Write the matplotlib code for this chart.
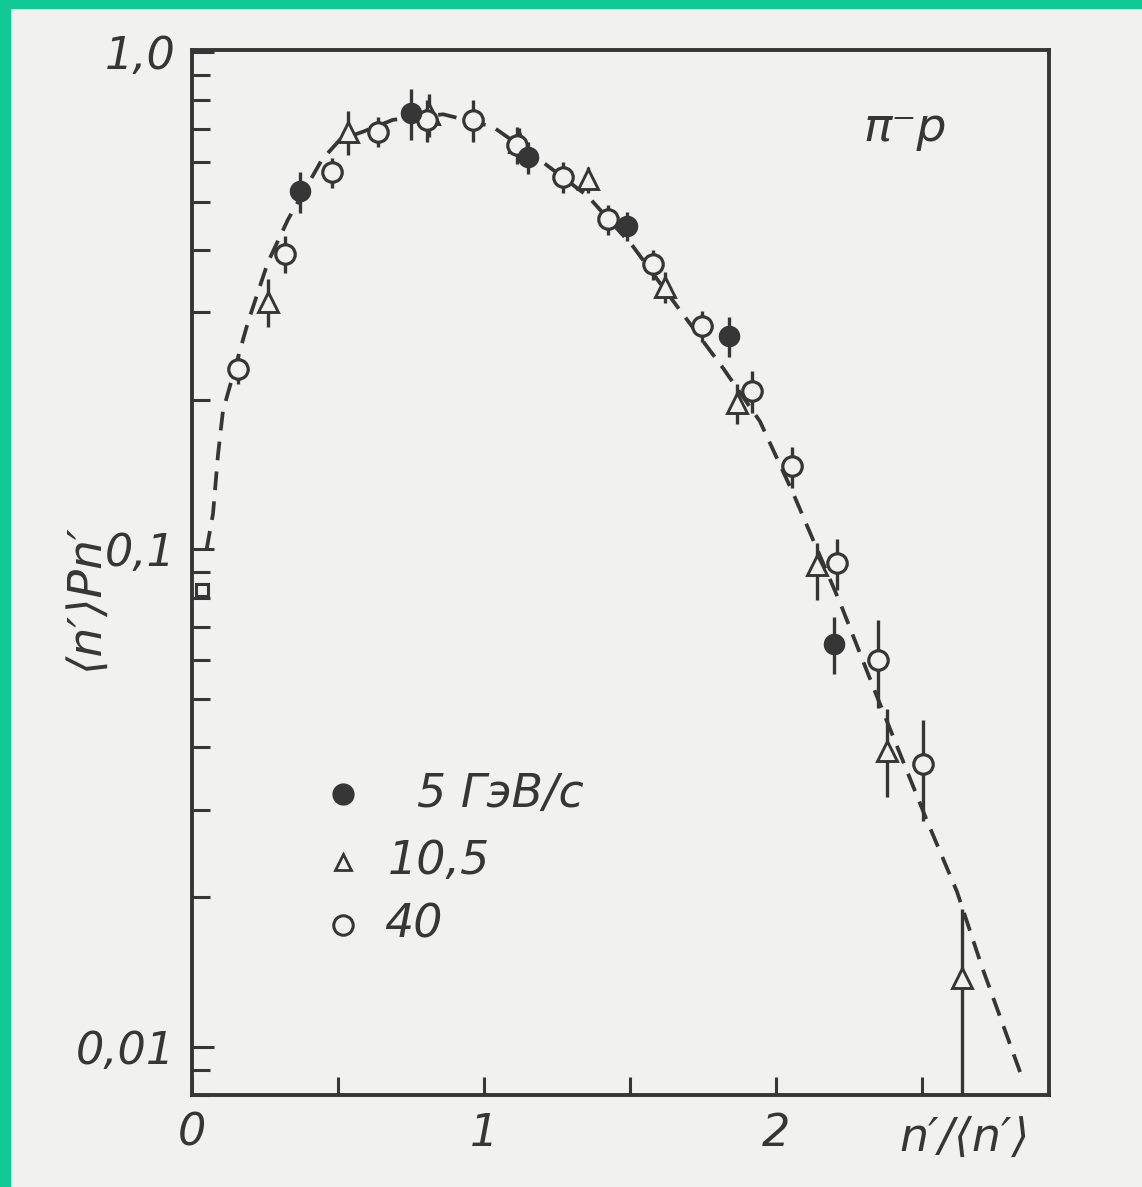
import matplotlib
matplotlib.use("Agg")
import matplotlib.pyplot as plt
from matplotlib import font_manager as fm
from matplotlib.patches import Rectangle

# ---------------- data ----------------
x_5 = [0.37, 0.75, 1.15, 1.49, 1.84, 2.20]
y_5 = [0.525, 0.755, 0.614, 0.447, 0.269, 0.0646]
e_5 = [0.05, 0.09, 0.045, 0.03, 0.025, 0.0085]

x_105 = [0.26, 0.534, 0.81, 1.12, 1.356, 1.62, 1.866, 2.14, 2.38, 2.637]
y_105 = [0.315, 0.692, 0.75, 0.66, 0.555, 0.337, 0.197, 0.093, 0.0393, 0.01374]
e_105_lo = [0.035, 0.07, 0.075, 0.045, 0.033, 0.024, 0.018, 0.014, 0.0075, 0.0075]
e_105_hi = [0.035, 0.07, 0.075, 0.045, 0.033, 0.024, 0.018, 0.010, 0.0085, 0.0052]

x_40 = [0.158, 0.318, 0.479, 0.637, 0.805, 0.962, 1.113, 1.27, 1.425, 1.579,
        1.747, 1.918, 2.055, 2.21, 2.35, 2.503]
y_40 = [0.231, 0.393, 0.573, 0.692, 0.731, 0.731, 0.652, 0.562, 0.461, 0.375,
        0.281, 0.208, 0.147, 0.094, 0.060, 0.037]
e_40 = [0.016, 0.033, 0.04, 0.048, 0.07, 0.07, 0.055, 0.04, 0.032, 0.026,
        0.02, 0.02, 0.014, 0.011, 0.012, 0.0085]

x_sq = [0.035]
y_sq = [0.083]

curve_x = [0.05, 0.072, 0.089, 0.106, 0.192, 0.26, 0.329, 0.445, 0.507, 0.586,
           0.688, 0.86, 1.03, 1.19, 1.356, 1.51, 1.66, 1.82, 1.945, 2.058,
           2.22, 2.346, 2.517, 2.62, 2.705, 2.842]
curve_y = [0.100, 0.118, 0.155, 0.190, 0.287, 0.378, 0.461, 0.608, 0.667, 0.692,
           0.731, 0.750, 0.708, 0.608, 0.513, 0.407, 0.309, 0.231, 0.181, 0.130,
           0.078, 0.0506, 0.0285, 0.0205, 0.0145, 0.0087]

x_ticks = [0, 0.5, 1, 1.5, 2, 2.5]
x_ticklabels = ["0", "", "1", "", "2", ""]
y_ticks = [0.01, 0.1, 1.0]
y_ticklabels = ["0,01", "0,1", "1,0"]

legend_labels = ["5 ГэВ/c", "10,5", "40"]

# ---------------- style ----------------
names = {f.name for f in fm.fontManager.ttflist}
FONT = "Liberation Sans Narrow" if "Liberation Sans Narrow" in names else "DejaVu Sans"
FAM = [FONT, "DejaVu Sans"]
plt.rcParams["font.family"] = FAM

INK = "#363636"
BG = "#f1f1ef"
GREEN = "#10c995"
FS = 32

fig = plt.figure(figsize=(11.42, 11.87), dpi=100, facecolor=BG)
ax = fig.add_axes([192 / 1142, 1 - 1095 / 1187, (1049 - 192) / 1142, (1095 - 50) / 1187])
ax.set_facecolor(BG)
ax.set_yscale("log")
ax.set_xlim(0, 2.935)
ax.set_ylim(0.008, 1.01)

# dashed curve
ax.plot(curve_x, curve_y, ls=(0, (5, 3)), color=INK, lw=2.7, zorder=2,
        dash_capstyle="butt")

# error bars + markers
ax.errorbar(x_5, y_5, yerr=e_5, fmt="o", ms=14.5, mfc=INK, mec=INK,
            ecolor=INK, elinewidth=2.4, capsize=0, zorder=4)
ax.errorbar(x_105, y_105, yerr=[e_105_lo, e_105_hi], fmt="^", ms=14, mfc=BG,
            mec=INK, mew=2.1, ecolor=INK, elinewidth=2.4, capsize=0, zorder=3)
ax.errorbar(x_40, y_40, yerr=e_40, fmt="o", ms=14, mfc=BG, mec=INK, mew=2.3,
            ecolor=INK, elinewidth=2.4, capsize=0, zorder=3)
ax.plot(x_sq, y_sq, "s", ms=9, mfc=BG, mec=INK, mew=2.2, zorder=3, clip_on=False)

# spines and ticks
for s in ax.spines.values():
    s.set_linewidth(2.8)
    s.set_color(INK)
ax.set_xticks(x_ticks)
ax.set_xticklabels(x_ticklabels)
ax.set_yticks(y_ticks)
ax.set_yticklabels(y_ticklabels)
ax.tick_params(axis="both", which="major", direction="in", length=16, width=2.2,
               color=INK, labelcolor=INK, labelsize=FS, top=False, right=False)
ax.tick_params(axis="x", which="major", length=13, pad=12)
ax.tick_params(axis="y", which="major", pad=12)
ax.tick_params(axis="y", which="minor", direction="in", length=13, width=2.2,
               color=INK, right=False)
ax.tick_params(axis="x", which="minor", bottom=False)
for lab in ax.get_xticklabels() + ax.get_yticklabels():
    lab.set_fontstyle("italic")
    lab.set_family(FAM)

# legend (drawn by hand, like the original)
leg_y = [0.288, 0.223, 0.163]
ax.plot([0.176], [leg_y[0]], "o", ms=15, mfc=INK, mec=INK, transform=ax.transAxes, zorder=5)
ax.plot([0.176], [leg_y[1]], "^", ms=12, mfc=BG, mec=INK, mew=2.0, transform=ax.transAxes, zorder=5)
ax.plot([0.176], [leg_y[2]], "o", ms=14, mfc=BG, mec=INK, mew=2.2, transform=ax.transAxes, zorder=5)
leg_x = [0.262, 0.228, 0.224]
for lx, ly, lab in zip(leg_x, leg_y, legend_labels):
    ax.text(lx, ly, lab, transform=ax.transAxes, fontsize=FS + 1, style="italic",
            color=INK, ha="left", va="center", family=FAM)

# annotations
ax.text(0.832, 0.925, "π⁻p", transform=ax.transAxes, fontsize=FS + 2, style="italic",
        color=INK, ha="center", va="center", family=FAM)
fig.text(965 / 1142, 1 - 1138 / 1187, "n′/⟨n′⟩", fontsize=FS + 1, style="italic",
         color=INK, ha="center", va="center", family=FAM)
fig.text(85 / 1142, 1 - 597 / 1187, "⟨n′⟩Pn′", fontsize=FS + 2, style="italic",
         color=INK, ha="center", va="center", rotation=90, family=FAM)

# green frame
fig.patches.append(Rectangle((0, 0), 10 / 1142, 1, transform=fig.transFigure,
                             color=GREEN, zorder=10))
fig.patches.append(Rectangle((0, 1 - 8 / 1187), 1, 8 / 1187, transform=fig.transFigure,
                             color=GREEN, zorder=10))

fig.savefig("out.png", dpi=100, facecolor=BG)
